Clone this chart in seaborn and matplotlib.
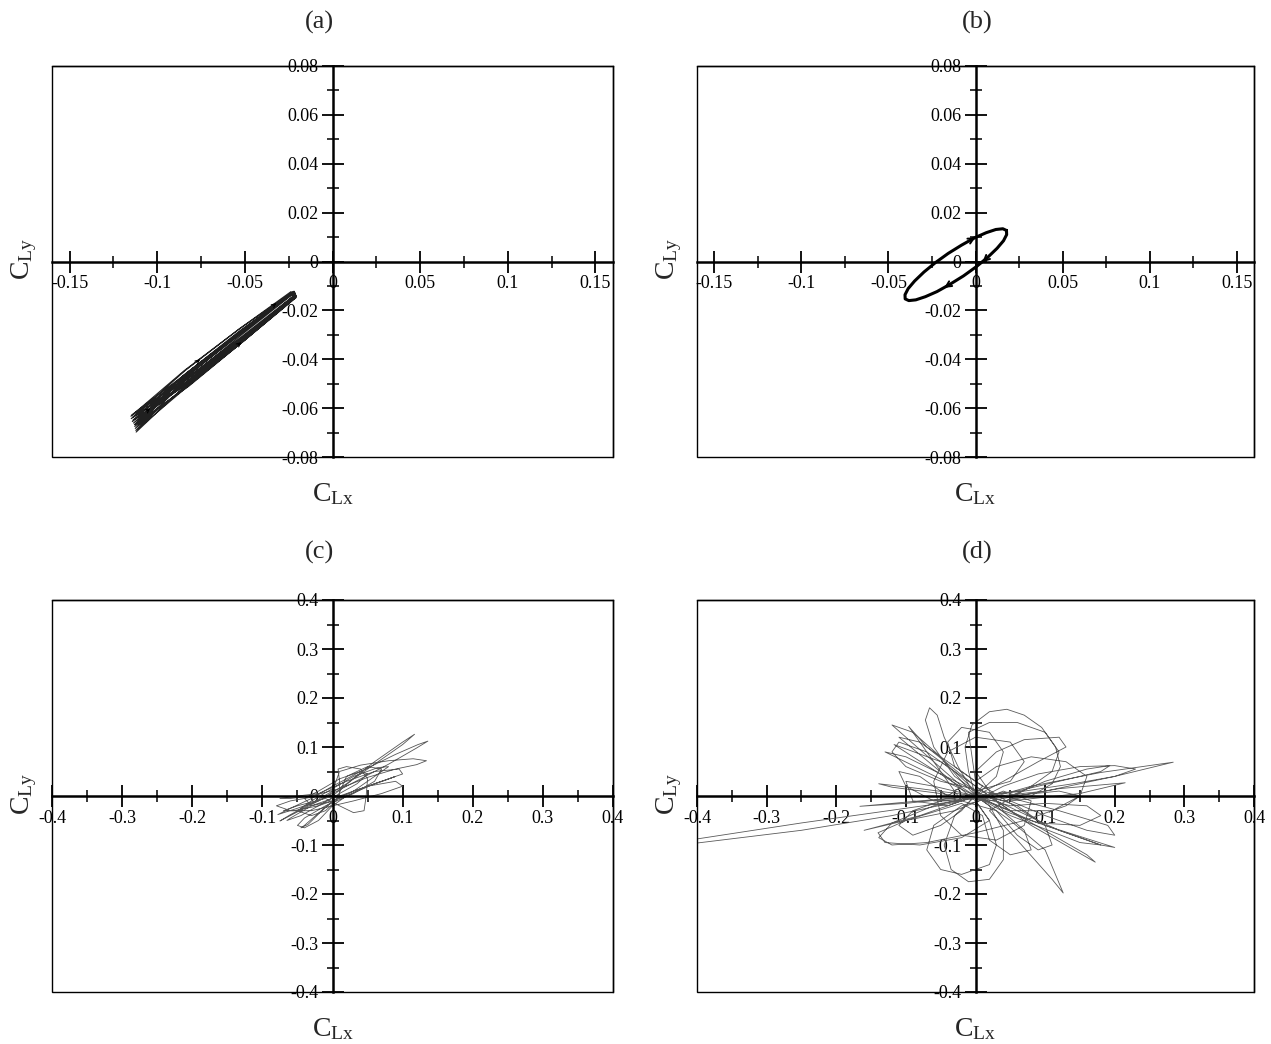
import matplotlib
matplotlib.use('Agg')
import matplotlib.pyplot as plt
from matplotlib.patches import Rectangle
import seaborn as sns

sns.set_style('white')
plt.rcParams['font.family'] = ['Liberation Serif', 'DejaVu Serif']
plt.rcParams['mathtext.fontset'] = 'custom'
plt.rcParams['mathtext.rm'] = 'Liberation Serif'
plt.rcParams['axes.unicode_minus'] = False

# ---- panel (a): slowly drifting thin loops (CLx, CLy)
a_x = [-0.1145, -0.0838, -0.0528, -0.0231, -0.0221, -0.0512, -0.0822,
       -0.1150, -0.0845, -0.0534, -0.0236, -0.0226, -0.0506, -0.0815,
       -0.1140, -0.0832, -0.0522, -0.0226, -0.0216, -0.0518, -0.0828,
       -0.1148, -0.0840, -0.0530, -0.0221, -0.0211, -0.0510, -0.0820,
       -0.1138, -0.0848, -0.0536, -0.0234, -0.0224, -0.0504, -0.0814,
       -0.1142, -0.0835, -0.0525, -0.0224, -0.0214, -0.0515, -0.0825,
       -0.1135, -0.0842, -0.0531, -0.0228, -0.0218, -0.0509, -0.0818,
       -0.1130, -0.0836, -0.0526, -0.0218, -0.0208, -0.0514, -0.0824,
       -0.1128, -0.0844, -0.0533, -0.0224, -0.0214, -0.0507, -0.0816,
       -0.1125, -0.0839, -0.0527, -0.0221, -0.0211, -0.0513, -0.0821,
       -0.1122, -0.0834, -0.0524, -0.0218, -0.0208, -0.0516, -0.0826,
       -0.1120, -0.0841, -0.0529, -0.0216, -0.0206, -0.0511, -0.0819,
       -0.1125]
a_y = [-0.0628, -0.0460, -0.0292, -0.0130, -0.0140, -0.0304, -0.0472,
       -0.0633, -0.0446, -0.0277, -0.0123, -0.0147, -0.0321, -0.0490,
       -0.0638, -0.0458, -0.0288, -0.0127, -0.0143, -0.0312, -0.0482,
       -0.0643, -0.0446, -0.0275, -0.0122, -0.0148, -0.0327, -0.0498,
       -0.0649, -0.0465, -0.0293, -0.0128, -0.0142, -0.0311, -0.0483,
       -0.0655, -0.0459, -0.0285, -0.0125, -0.0145, -0.0321, -0.0495,
       -0.0661, -0.0475, -0.0301, -0.0130, -0.0140, -0.0309, -0.0483,
       -0.0668, -0.0458, -0.0282, -0.0122, -0.0148, -0.0330, -0.0506,
       -0.0675, -0.0471, -0.0293, -0.0126, -0.0144, -0.0321, -0.0499,
       -0.0683, -0.0468, -0.0289, -0.0124, -0.0146, -0.0329, -0.0508,
       -0.0691, -0.0483, -0.0303, -0.0129, -0.0141, -0.0319, -0.0499,
       -0.0698, -0.0478, -0.0296, -0.0126, -0.0144, -0.0328, -0.0510,
       -0.0665]
a_arrow_tip = [(-0.0755, -0.0400), (-0.0520, -0.0330), (-0.0320, -0.0170), (-0.1040, -0.0600)]
a_arrow_tail = [(-0.0775, -0.0412), (-0.0540, -0.0342), (-0.0340, -0.0182), (-0.1060, -0.0612)]

# ---- panel (b): single limit cycle
b_x = [0.0178, 0.0157, 0.0117, 0.0062, -0.0005, -0.0080, -0.0157, -0.0231,
       -0.0296, -0.0350, -0.0387, -0.0405, -0.0404, -0.0383, -0.0343, -0.0288,
       -0.0221, -0.0146, -0.0069, 0.0005, 0.0070, 0.0124, 0.0161, 0.0179, 0.0178]
b_y = [0.0127, 0.0134, 0.0131, 0.0118, 0.0097, 0.0067, 0.0033, -0.0005,
       -0.0043, -0.0080, -0.0111, -0.0136, -0.0153, -0.0160, -0.0157, -0.0144,
       -0.0123, -0.0093, -0.0059, -0.0021, 0.0017, 0.0054, 0.0085, 0.0110, 0.0127]
b_arrow_tip = [(0.0000, 0.0099), (-0.0180, -0.0108), (0.0040, -0.0003)]
b_arrow_tail = [(-0.0030, 0.0087), (-0.0150, -0.0094), (0.0070, 0.0017)]

# ---- panel (c)
c_x = [0.0, 0.03, 0.07, 0.10, 0.117, 0.10, 0.06, 0.02, -0.02, -0.05, -0.078, -0.06, -0.03, 0.0,
       0.04, 0.09, 0.122, 0.136, 0.12, 0.08, 0.04, 0.0, -0.04, -0.075, -0.06, -0.03, 0.0,
       0.01, 0.04, 0.08, 0.115, 0.134, 0.12, 0.09, 0.05, 0.01, -0.03, -0.06, -0.075, -0.05, -0.02,
       0.02, 0.06, 0.095, 0.10, 0.07, 0.03, 0.0, -0.02, -0.04, -0.045, -0.035, -0.015, 0.01,
       0.01, 0.008, 0.02, 0.04, 0.05, 0.048, 0.045, 0.03, 0.01, -0.01,
       -0.05, -0.07, -0.055, -0.02, 0.02, 0.06, 0.09, 0.075, 0.04, 0.0, -0.03,
       -0.06, -0.065, -0.045, -0.02, 0.01, 0.035, 0.05, 0.04, 0.01, -0.02, -0.04, -0.03, 0.0,
       0.03, 0.06, 0.08, 0.065, 0.03, 0.0, -0.03, -0.05, -0.03, -0.01, 0.005,
       0.02, 0.05, 0.07, 0.06, 0.03, -0.01, -0.04, -0.05, -0.04, -0.02, 0.0, 0.02,
       0.05, 0.09, 0.10, 0.07, 0.03, 0.0, -0.03, -0.06, -0.08, -0.06, -0.02, 0.0]
c_y = [0.0, 0.035, 0.075, 0.105, 0.126, 0.11, 0.07, 0.025, -0.01, -0.025, -0.038, -0.025, -0.005, 0.02,
       0.05, 0.085, 0.105, 0.112, 0.098, 0.065, 0.035, 0.005, -0.025, -0.051, -0.038, -0.015, 0.01,
       0.05, 0.063, 0.072, 0.076, 0.072, 0.064, 0.055, 0.038, 0.015, 0.0, -0.005, -0.005, 0.0, 0.005,
       0.03, 0.05, 0.055, 0.045, 0.03, 0.01, -0.01, -0.035, -0.06, -0.065, -0.058, -0.03, 0.0,
       0.03, 0.055, 0.06, 0.055, 0.035, 0.0, -0.03, -0.034, -0.02, -0.005,
       -0.02, -0.03, -0.03, -0.02, 0.0, 0.025, 0.04, 0.032, 0.015, -0.005, -0.02,
       -0.045, -0.05, -0.04, -0.02, 0.005, 0.025, 0.045, 0.05, 0.035, 0.01, -0.005, -0.02, -0.01,
       0.01, 0.04, 0.06, 0.058, 0.04, 0.015, -0.01, -0.03, -0.04, -0.03, -0.01,
       0.04, 0.06, 0.055, 0.03, 0.005, -0.02, -0.045, -0.06, -0.065, -0.05, -0.02, 0.0,
       0.02, 0.03, 0.02, 0.005, -0.01, -0.02, -0.03, -0.03, -0.02, -0.01, 0.0, 0.0]

# ---- panel (d)
d_x = [0.00, -0.01, -0.015, -0.005, 0.02, 0.045, 0.07, 0.095, 0.115, 0.122, 0.11, 0.08, 0.04, 0.01,
       -0.03, -0.06, -0.072, -0.066, -0.055, -0.045, -0.025, 0.0,
       0.05, 0.10, 0.126, 0.11, 0.06, 0.02,
       0.08, 0.18, 0.284, 0.2, 0.10, 0.0,
       -0.1, -0.25, -0.42, -0.45, -0.40, -0.25, -0.12, -0.02,
       -0.096, -0.07, 0.0, 0.08, 0.172, 0.16, 0.05, -0.05, -0.117, -0.09, 0.0,
       -0.03, -0.045, -0.035, -0.01, 0.02, 0.04, 0.04, 0.02, 0.0,
       -0.06, -0.12, -0.139, -0.12, -0.07, 0.0, 0.07, 0.13, 0.15, 0.12, 0.05,
       0.10, 0.16, 0.193, 0.18, 0.12, 0.06, 0.0,
       -0.08, -0.139, -0.12, -0.05, 0.02,
       0.12, 0.215, 0.15, 0.05,
       0.10, 0.16, 0.2, 0.19, 0.12, 0.04,
       -0.05, -0.10, -0.12, -0.11, -0.07, -0.03, 0.0,
       0.05, 0.07, 0.05, 0.0, -0.04, -0.06, -0.05, -0.02, 0.03, 0.07, 0.08, 0.04,
       -0.03, -0.1, -0.14, -0.13, -0.08, -0.02, 0.02, 0.0,
       -0.11, -0.08, 0.0, 0.1, 0.2, 0.18, 0.08, 0.0,
       0.05, 0.10, 0.16, 0.18, 0.15, 0.09, 0.04,
       0.0, 0.03, 0.07, 0.12, 0.13, 0.09, 0.04, 0.0,
       -0.08, -0.166, -0.1, 0.0,
       -0.06, -0.1, -0.09, -0.04, 0.0,
       -0.08, -0.16, -0.1, -0.02,
       0.01, 0.02, 0.05, 0.08, 0.07, 0.03, 0.0,
       0.05, 0.11, 0.15, 0.16, 0.13, 0.08, 0.03, 0.0,
       -0.01, 0.02, 0.06, 0.10, 0.12, 0.11, 0.08, 0.03,
       -0.02, -0.06, -0.07, -0.05, -0.02, 0.02, 0.03, 0.02, 0.0,
       0.04, 0.09, 0.15, 0.2, 0.23, 0.2, 0.14, 0.07, 0.0,
       -0.02, -0.05, -0.09, -0.12, -0.10, -0.06, -0.02,
       -0.04, -0.08, -0.11, -0.10, -0.06, -0.02,
       0.03, 0.06, 0.09, 0.11, 0.10, 0.06, 0.02,
       -0.05, -0.09, -0.11, -0.09, -0.05, -0.02,
       0.01, -0.03, -0.04, -0.02, 0.02, 0.04, 0.03, 0.0,
       -0.13, -0.10, 0.0, 0.12, 0.18, 0.15, 0.05, 0.0]
d_y = [0.00, 0.05, 0.10, 0.145, 0.172, 0.177, 0.165, 0.14, 0.10, 0.06, 0.025, 0.0, -0.01, 0.0,
       0.04, 0.10, 0.155, 0.18, 0.165, 0.12, 0.06, 0.0,
       -0.05, -0.11, -0.198, -0.17, -0.09, -0.03,
       0.02, 0.048, 0.069, 0.04, 0.01, -0.005,
       -0.025, -0.055, -0.092, -0.105, -0.096, -0.07, -0.04, -0.01,
       0.142, 0.10, 0.02, -0.06, -0.135, -0.12, -0.03, 0.07, 0.105, 0.08, 0.0,
       -0.04, -0.10, -0.15, -0.175, -0.17, -0.13, -0.07, -0.02, 0.0,
       -0.02, -0.055, -0.085, -0.1, -0.095, -0.075, -0.05, -0.02, 0.0, 0.01, 0.0,
       0.03, 0.055, 0.062, 0.05, 0.03, 0.01, 0.0,
       0.015, 0.025, 0.018, 0.005, -0.01,
       0.015, 0.027, 0.005, -0.01,
       -0.04, -0.07, -0.08, -0.06, -0.03, 0.0,
       0.03, 0.06, 0.09, 0.11, 0.09, 0.05, 0.01,
       0.03, 0.07, 0.11, 0.12, 0.09, 0.03, -0.04, -0.08, -0.09, -0.06, -0.01, 0.01,
       -0.03, -0.05, -0.075, -0.095, -0.10, -0.085, -0.05, -0.01,
       0.12, 0.11, 0.03, -0.06, -0.105, -0.10, -0.05, 0.0,
       -0.02, -0.015, -0.02, -0.04, -0.06, -0.055, -0.03,
       0.05, 0.09, 0.115, 0.12, 0.10, 0.07, 0.03, 0.0,
       -0.01, -0.021, -0.015, 0.0,
       0.02, 0.03, -0.01, -0.02, 0.0,
       -0.04, -0.07, -0.05, -0.015,
       -0.04, -0.09, -0.12, -0.11, -0.07, -0.02, 0.0,
       -0.03, -0.03, 0.0, 0.04, 0.07, 0.08, 0.06, 0.03,
       0.13, 0.15, 0.15, 0.13, 0.09, 0.05, 0.02, 0.0,
       -0.02, -0.06, -0.11, -0.15, -0.16, -0.14, -0.10, -0.05, -0.01,
       0.02, 0.045, 0.06, 0.062, 0.055, 0.04, 0.025, 0.01, 0.0,
       0.03, 0.08, 0.13, 0.145, 0.12, 0.07, 0.02,
       0.0, 0.04, 0.05, 0.02, -0.01, -0.01,
       -0.03, -0.08, -0.11, -0.10, -0.06, -0.02, 0.0,
       -0.01, -0.03, -0.06, -0.08, -0.06, -0.03,
       0.02, 0.06, 0.11, 0.14, 0.13, 0.09, 0.04, 0.0,
       0.09, 0.08, 0.01, -0.07, -0.10, -0.095, -0.04, 0.0]

# ---- axes ticks
ab_xmajor = [-0.15, -0.1, -0.05, 0, 0.05, 0.1, 0.15]
ab_xminor = [-0.125, -0.075, -0.025, 0.025, 0.075, 0.125]
ab_ymajor = [-0.08, -0.06, -0.04, -0.02, 0, 0.02, 0.04, 0.06, 0.08]
ab_yminor = [-0.07, -0.05, -0.03, -0.01, 0.01, 0.03, 0.05, 0.07]
cd_major = [-0.4, -0.3, -0.2, -0.1, 0, 0.1, 0.2, 0.3, 0.4]
cd_minor = [-0.35, -0.25, -0.15, -0.05, 0.05, 0.15, 0.25, 0.35]


def style_axes(ax, lim_x, lim_y, xmaj, xmin, ymaj, ymin):
    ax.set_xlim(-lim_x, lim_x)
    ax.set_ylim(-lim_y, lim_y)
    for s in ['left', 'bottom']:
        ax.spines[s].set_position(('data', 0))
        ax.spines[s].set_linewidth(1.8)
        ax.spines[s].set_color('black')
    for s in ['top', 'right']:
        ax.spines[s].set_visible(True)
        ax.spines[s].set_linewidth(1.0)
        ax.spines[s].set_color('black')
    ax.add_patch(Rectangle((0, 0), 1, 1, transform=ax.transAxes, fill=False,
                           lw=1.0, ec='black', clip_on=False, zorder=3))
    ax.set_xticks(xmaj, labels=['%g' % v for v in xmaj])
    ax.set_xticks(xmin, minor=True)
    ax.set_yticks(ymaj, labels=['%g' % v for v in ymaj])
    ax.set_yticks(ymin, minor=True)
    ax.tick_params(which='both', bottom=True, left=True, top=False, right=False,
                   direction='inout', colors='black')
    ax.tick_params(which='major', length=16, width=1.3, labelsize=13, pad=2)
    ax.tick_params(which='minor', length=8, width=1.1)
    ax.set_xlabel('')
    ax.set_ylabel('')


def add_arrows(ax, tips, tails, lw, size):
    for tip, tail in zip(tips, tails):
        ax.annotate('', xy=tip, xytext=tail,
                    arrowprops=dict(arrowstyle='->', lw=lw, color='black',
                                    mutation_scale=size, shrinkA=0, shrinkB=0))


W, H = 1271, 1044
fig = plt.figure(figsize=(W / 100, H / 100), dpi=100)

boxes = {
    'a': (52, 66, 613, 457),
    'b': (697, 66, 1254, 457),
    'c': (52, 600, 613, 992),
    'd': (697, 600, 1254, 992),
}
axs = {}
for key, (l, t, r, b) in boxes.items():
    axs[key] = fig.add_axes([l / W, 1 - b / H, (r - l) / W, (b - t) / H])

sns.lineplot(x=a_x, y=a_y, sort=False, estimator=None, ax=axs['a'],
             color='#202020', linewidth=0.8)
add_arrows(axs['a'], a_arrow_tip, a_arrow_tail, 0.8, 7)
style_axes(axs['a'], 0.16, 0.08, ab_xmajor, ab_xminor, ab_ymajor, ab_yminor)

sns.lineplot(x=b_x, y=b_y, sort=False, estimator=None, ax=axs['b'],
             color='black', linewidth=2.2)
add_arrows(axs['b'], b_arrow_tip, b_arrow_tail, 1.4, 10)
style_axes(axs['b'], 0.16, 0.08, ab_xmajor, ab_xminor, ab_ymajor, ab_yminor)

sns.lineplot(x=c_x, y=c_y, sort=False, estimator=None, ax=axs['c'],
             color='#555555', linewidth=0.6)
style_axes(axs['c'], 0.4, 0.4, cd_major, cd_minor, cd_major, cd_minor)

sns.lineplot(x=d_x, y=d_y, sort=False, estimator=None, ax=axs['d'],
             color='#5a5a5a', linewidth=0.6)
style_axes(axs['d'], 0.4, 0.4, cd_major, cd_minor, cd_major, cd_minor)

# panel letters and axis names
for key, (xc, yc) in {'a': (319, 22), 'b': (977, 22), 'c': (319, 552), 'd': (977, 552)}.items():
    fig.text(xc / W, 1 - yc / H, '(%s)' % key, fontsize=19, ha='center', va='center')
for xc, yc in [(333, 494), (975, 494), (333, 1029), (975, 1029)]:
    fig.text(xc / W, 1 - yc / H, r'$\mathrm{C_{Lx}}$', fontsize=20, ha='center', va='center')
for xc, yc in [(24, 259), (669, 259), (24, 794), (669, 794)]:
    fig.text(xc / W, 1 - yc / H, r'$\mathrm{C_{Ly}}$', fontsize=20, ha='center', va='center',
             rotation=90)

fig.savefig('out.png', dpi=100)
